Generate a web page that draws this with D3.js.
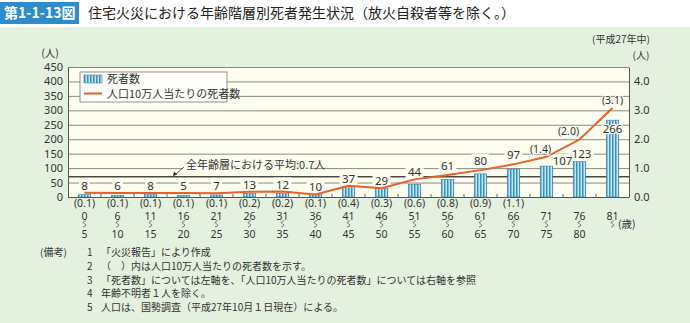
<!DOCTYPE html>
<html><head><meta charset="utf-8">
<script src="https://cdn.jsdelivr.net/npm/d3@7/dist/d3.min.js"></script>
<style>
html,body{margin:0;padding:0;background:#fff;}
svg{display:block;font-family:"Noto Sans CJK JP","Noto Sans",sans-serif;}
</style></head><body>
<script>
const categories = ["0-5","6-10","11-15","16-20","21-25","26-30","31-35","36-40","41-45","46-50","51-55","56-60","61-65","66-70","71-75","76-80","81-"];
const ageStart = ["0","6","11","16","21","26","31","36","41","46","51","56","61","66","71","76","81"];
const ageEnd = ["5","10","15","20","25","30","35","40","45","50","55","60","65","70","75","80",""];
const deaths = [8,6,8,5,7,13,12,10,37,29,44,61,80,97,107,123,266];
const rateLabels = ["0.1","0.1","0.1","0.1","0.1","0.2","0.2","0.1","0.4","0.3","0.6","0.8","0.9","1.1","1.4","2.0","3.1"];
const rates = [0.15,0.14,0.14,0.14,0.13,0.18,0.19,0.09,0.39,0.30,0.61,0.76,0.93,1.13,1.39,1.99,3.08];
const average = 0.7;
const leftTicks = [0,50,100,150,200,250,300,350,400,450];
const rightTicks = [0,1,2,3,4];
const notes = ["「火災報告」により作成","（　）内は人口10万人当たりの死者数を示す。","「死者数」については左軸を、「人口10万人当たりの死者数」については右軸を参照","年齢不明者１人を除く。","人口は、国勢調査（平成27年10月１日現在）による。"];

const W=690,H=323;
const NUM="'Noto Sans','DejaVu Sans',sans-serif";
const svg=d3.select("body").append("svg").attr("width",W).attr("height",H);
const defs=svg.append("defs");
const pat=defs.append("pattern").attr("id","stripe").attr("patternUnits","userSpaceOnUse").attr("width",3).attr("height",4);
pat.append("rect").attr("width",3).attr("height",4).attr("fill","#c9e8f5");
pat.append("rect").attr("x",0).attr("width",1.5).attr("height",4).attr("fill","#2f93c9");

const green="#e5f1df", plotBg="#fdfdf0";
svg.append("rect").attr("width",W).attr("height",H).attr("fill","#fff");
svg.append("rect").attr("y",27).attr("width",W).attr("height",H-27).attr("fill",green);
svg.append("rect").attr("x",0).attr("y",2).attr("width",79).attr("height",22).attr("fill","#2e8ccb");
svg.append("text").attr("x",4).attr("y",18).attr("fill","#fff").attr("font-size",14).attr("font-weight","bold").text("第1-1-13図");
svg.append("text").attr("x",88).attr("y",18).attr("fill","#222").attr("font-size",14).text("住宅火災における年齢階層別死者発生状況（放火自殺者等を除く。）");

const L=68,R=629,T=67,B=197;
const x=d3.scaleBand().domain(categories).range([L,R]).padding(0);
const yL=d3.scaleLinear().domain([0,450]).range([B,T]);
const yR=d3.scaleLinear().domain([0,4.5]).range([B,T]);
const bw=x.bandwidth(), barW=12.5;
const cx=c=>x(c)+bw/2;

svg.append("rect").attr("x",L).attr("y",T).attr("width",R-L).attr("height",B-T).attr("fill",plotBg);
svg.append("g").selectAll("line").data(leftTicks).join("line")
  .attr("x1",L).attr("x2",R).attr("y1",d=>yL(d)+0.5).attr("y2",d=>yL(d)+0.5)
  .attr("stroke","#8b8b7b").attr("stroke-width",1);
svg.append("line").attr("x1",L).attr("x2",R).attr("y1",yR(average)).attr("y2",yR(average)).attr("stroke","#4a4a44").attr("stroke-width",1.6);

const gL=svg.append("g").attr("transform",`translate(${L},0)`).call(d3.axisLeft(yL).tickValues(leftTicks).tickSize(0).tickPadding(5));
gL.select(".domain").attr("stroke","#555");
gL.selectAll("text").attr("font-size",11).attr("fill","#333").attr("font-family",NUM);
const gR=svg.append("g").attr("transform",`translate(${R},0)`).call(d3.axisRight(yR).tickValues(rightTicks).tickFormat(d3.format(".1f")).tickSize(0).tickPadding(5));
gR.select(".domain").attr("stroke","#555");
gR.selectAll("text").attr("font-size",11).attr("fill","#333").attr("font-family",NUM);

function labelPos(i){
  const d=deaths[i];
  const top=Math.min(yL(d),yR(rates[i]));
  if(i===14) return [cx(categories[i])+16, yL(d)-5];
  if(i===15) return [cx(categories[i])+2, yL(d)-7];
  if(i===16) return [cx(categories[i]), yL(d)+9];
  return [cx(categories[i]), top-7-(d>50?2:0)];
}
const masks=svg.append("g");
deaths.forEach((d,i)=>{
  const [lx,ly]=labelPos(i);
  const w=String(d).length*7+4;
  if(i!==16) masks.append("rect").attr("x",lx-w/2).attr("y",ly-7).attr("width",w).attr("height",13).attr("fill",plotBg);
});

svg.append("g").selectAll("rect").data(deaths).join("rect")
  .attr("x",(d,i)=>cx(categories[i])-barW/2).attr("y",d=>yL(d))
  .attr("width",barW).attr("height",d=>B-yL(d))
  .attr("fill","url(#stripe)").attr("stroke","#4f7f9a").attr("stroke-width",0.6);

svg.append("g").selectAll("line").data(categories.slice(1)).join("line")
  .attr("x1",d=>x(d)).attr("x2",d=>x(d)).attr("y1",B).attr("y2",B-3).attr("stroke","#666");
svg.append("line").attr("x1",L).attr("x2",R).attr("y1",B+0.5).attr("y2",B+0.5).attr("stroke","#555");

const line=d3.line().x((d,i)=>cx(categories[i])).y(d=>yR(d));
svg.append("path").datum(rates).attr("d",line).attr("fill","none").attr("stroke","#e8602a").attr("stroke-width",2);

deaths.forEach((d,i)=>{
  const [lx,ly]=labelPos(i);
  const t=svg.append("text").attr("x",lx).attr("y",ly+4).attr("text-anchor","middle").attr("font-size",11.5).attr("font-family",NUM).attr("fill","#333").text(d);
  if(i===16){ t.attr("paint-order","stroke").attr("stroke",plotBg).attr("stroke-width",2.5); }
});

rateLabels.forEach((r,i)=>{
  const c=cx(categories[i]);
  if(i<14){
    svg.append("text").attr("x",c).attr("y",207).attr("text-anchor","middle").attr("font-size",10.5).attr("font-family",NUM).attr("fill","#333").text(`(${r})`);
  } else {
    const off={14:[-6,-8],15:[-11,-9],16:[0,-8]}[i];
    svg.append("text").attr("x",c+off[0]).attr("y",yR(rates[i])+off[1]+4).attr("text-anchor","middle").attr("font-size",10.5).attr("font-family",NUM).attr("fill","#333")
      .attr("paint-order","stroke").attr("stroke",plotBg).attr("stroke-width",2).text(`(${r})`);
  }
});

categories.forEach((c,i)=>{
  const cxx=cx(c);
  svg.append("text").attr("x",cxx).attr("y",219.5).attr("text-anchor","middle").attr("font-size",10.5).attr("font-family",NUM).attr("fill","#333").text(ageStart[i]);
  svg.append("path").attr("d",`M${cxx+1.3},${220.8} C${cxx-1.8},${221.6} ${cxx-1.8},${223} ${cxx},${223.8} S${cxx+1.8},${226.2} ${cxx-1.3},${227}`)
    .attr("fill","none").attr("stroke","#444").attr("stroke-width",0.8);
  if(ageEnd[i]) svg.append("text").attr("x",cxx).attr("y",238).attr("text-anchor","middle").attr("font-size",10.5).attr("font-family",NUM).attr("fill","#333").text(ageEnd[i]);
});
svg.append("text").attr("x",618).attr("y",228).attr("font-size",10.5).attr("fill","#333").text("(歳)");

svg.append("text").attr("x",50).attr("y",57).attr("text-anchor","middle").attr("font-size",10.5).attr("fill","#333").text("(人)");
svg.append("text").attr("x",641).attr("y",58.5).attr("text-anchor","middle").attr("font-size",10).attr("fill","#333").text("(人)");
svg.append("text").attr("x",621).attr("y",43).attr("text-anchor","middle").attr("font-size",10).attr("fill","#333").text("(平成27年中)");

const ay=yR(average);
svg.append("rect").attr("x",183).attr("y",158).attr("width",128).attr("height",13).attr("fill",plotBg);
svg.append("text").attr("x",186).attr("y",169).attr("font-size",11).attr("fill","#333").text("全年齢層における平均:0.7人");
svg.append("line").attr("x1",184).attr("y1",167).attr("x2",175).attr("y2",ay-2).attr("stroke","#333").attr("stroke-width",0.8);
svg.append("path").attr("d",`M${173},${ay-0.5} l1,-4.5 l3.5,2.5 z`).attr("fill","#333");

const lg=svg.append("g");
lg.append("rect").attr("x",80).attr("y",72).attr("width",147).attr("height",30).attr("fill","#fefefa").attr("stroke","#777").attr("stroke-width",0.8);
lg.append("rect").attr("x",84).attr("y",75).attr("width",18).attr("height",8).attr("fill","url(#stripe)").attr("stroke","#4f7f9a").attr("stroke-width",0.6);
lg.append("text").attr("x",107).attr("y",83).attr("font-size",11).attr("fill","#333").text("死者数");
lg.append("line").attr("x1",84).attr("x2",102).attr("y1",93.5).attr("y2",93.5).attr("stroke","#e8602a").attr("stroke-width",2);
lg.append("text").attr("x",107).attr("y",97.5).attr("font-size",11).attr("fill","#333").text("人口10万人当たりの死者数");

svg.append("text").attr("x",40).attr("y",256).attr("font-size",10).attr("fill","#333").text("(備考)");
notes.forEach((n,i)=>{
  const yy=256+i*13.8;
  svg.append("text").attr("x",87).attr("y",yy).attr("font-size",10).attr("fill","#333").text(i+1);
  svg.append("text").attr("x",101).attr("y",yy).attr("font-size",10).attr("fill","#333").text(n);
});
</script>
</body></html>
